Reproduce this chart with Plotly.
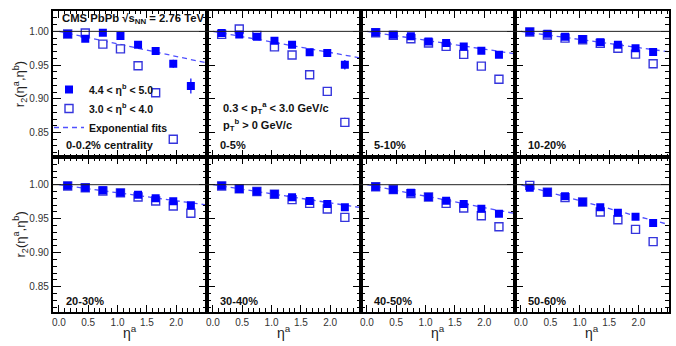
import numpy as np
import plotly.graph_objects as go

W, H = 676, 346

# ---------------- data ----------------
eta_a = [0.15, 0.45, 0.75, 1.05, 1.35, 1.65, 1.95, 2.25]
centrality_labels = ["0-0.2% centrality", "0-5%", "5-10%", "10-20%",
                     "20-30%", "30-40%", "40-50%", "50-60%"]
x_tick_vals = [0.0, 0.5, 1.0, 1.5, 2.0]
y_tick_vals = [0.85, 0.90, 0.95, 1.00]

# 4.4 < eta_b < 5.0 (filled)
far_c0 = [0.996, 0.989, 0.998, 0.993, 0.980, 0.971, 0.952, 0.919]
far_c1 = [0.9975, 0.9955, 0.992, 0.986, 0.980, 0.969, 0.968, 0.9505]
far_c2 = [0.9985, 0.995, 0.9926, 0.985, 0.9827, 0.9777, 0.9713, 0.9653]
far_c3 = [0.9995, 0.9965, 0.992, 0.9886, 0.984, 0.980, 0.975, 0.9693]
far_c4 = [0.9985, 0.9956, 0.9917, 0.988, 0.9853, 0.980, 0.9755, 0.9696]
far_c5 = [0.9985, 0.9936, 0.990, 0.9863, 0.9814, 0.976, 0.9716, 0.9667]
far_c6 = [0.997, 0.9926, 0.988, 0.982, 0.9765, 0.9716, 0.9647, 0.9574]
far_c7 = [0.9956, 0.989, 0.983, 0.9745, 0.967, 0.9588, 0.953, 0.9436]

far_err_c0 = [0.003, 0.003, 0.004, 0.004, 0.005, 0.005, 0.006, 0.011]
far_err_c1 = [0.002, 0.002, 0.003, 0.003, 0.003, 0.003, 0.004, 0.007]
far_err_small = [0.001, 0.001, 0.001, 0.001, 0.002, 0.002, 0.002, 0.002]

# 3.0 < eta_b < 4.0 (open)
near_c0 = [0.996, 0.9975, 0.981, 0.974, 0.949, 0.909, 0.840, None]
near_c1 = [0.9955, 1.0035, 0.994, 0.977, 0.965, 0.9356, 0.911, 0.865]
near_c2 = [0.998, 0.994, 0.989, 0.9827, 0.9777, 0.9658, 0.9485, 0.929]
near_c3 = [0.999, 0.9945, 0.990, 0.9876, 0.9822, 0.975, 0.9663, 0.952]
near_c4 = [0.998, 0.9955, 0.9907, 0.988, 0.9819, 0.976, 0.9686, 0.958]
near_c5 = [0.998, 0.994, 0.990, 0.986, 0.978, 0.9725, 0.9642, 0.952]
near_c6 = [0.997, 0.993, 0.9868, 0.982, 0.9725, 0.9657, 0.9544, 0.9382]
near_c7 = [0.999, 0.989, 0.981, 0.9745, 0.9598, 0.9485, 0.9343, 0.9162]

near_err_c0 = [0.002, 0.002, 0.002, 0.003, 0.003, 0.003, 0.003, 0.0]
near_err_c1 = [0.002, 0.002, 0.002, 0.002, 0.003, 0.003, 0.003, 0.007]
near_err_small = [0.001, 0.001, 0.001, 0.001, 0.002, 0.002, 0.002, 0.002]

# exponential fit parameter F2 for r2 = exp(-2 F2 eta_a), fitted to filled points
fit_F2 = [0.0095, 0.0080, 0.0067, 0.0061, 0.0060, 0.0068, 0.0086, 0.0120]

far_sets = [far_c0, far_c1, far_c2, far_c3, far_c4, far_c5, far_c6, far_c7]
near_sets = [near_c0, near_c1, near_c2, near_c3, near_c4, near_c5, near_c6, near_c7]
far_errs = [far_err_c0, far_err_c1] + [far_err_small] * 6
near_errs = [near_err_c0, near_err_c1] + [near_err_small] * 6

# ---------------- layout geometry (pixels) ----------------
col_px = [52.7, 206.7, 360.7, 514.8, 669.0]
row_px = [(11.0, 157.3), (157.3, 311.7)]
yranges = [[0.8132, 1.0302], [0.8132, 1.0403]]
xrange_ = [-0.105, 2.52]

def px_x(p):
    return p / W

def px_y(p):
    return 1 - p / H

FONT = "Liberation Sans, Arial, Helvetica, sans-serif"
C_FILL = "#0000ff"
C_OPEN = "#3535dd"
C_FIT = "#5050ff"

fig = go.Figure()
eta_fit = np.linspace(0.0, 2.5, 60)

for i in range(8):
    r, c = divmod(i, 4)
    n = i + 1
    xa = "x" if n == 1 else f"x{n}"
    ya = "y" if n == 1 else f"y{n}"
    first = (i == 0)
    fig.add_trace(go.Scatter(
        x=eta_fit, y=np.exp(-2 * fit_F2[i] * eta_fit), mode="lines",
        line=dict(color=C_FIT, width=1.3, dash="5px,4px"),
        xaxis=xa, yaxis=ya, name="<b>Exponential fits</b>",
        showlegend=first, legendrank=3, hoverinfo="skip"))
    fig.add_trace(go.Scatter(
        x=eta_a, y=near_sets[i], mode="markers",
        marker=dict(symbol="square", size=8, color="white", line=dict(width=1.4, color=C_OPEN)),
        error_y=dict(type="data", array=near_errs[i], width=0, thickness=1.2, color=C_OPEN),
        xaxis=xa, yaxis=ya, name="<b>3.0 < η<sup>b</sup> < 4.0</b>",
        showlegend=first, legendrank=2))
    fig.add_trace(go.Scatter(
        x=eta_a, y=far_sets[i], mode="markers",
        marker=dict(symbol="square", size=8, color=C_FILL),
        error_y=dict(type="data", array=far_errs[i], width=0, thickness=1.2, color=C_FILL),
        xaxis=xa, yaxis=ya, name="<b>4.4 < η<sup>b</sup> < 5.0</b>",
        showlegend=first, legendrank=1))

    xdom = [px_x(col_px[c]), px_x(col_px[c + 1])]
    ydom = [px_y(row_px[r][1]), px_y(row_px[r][0])]
    common = dict(showline=True, linecolor="black", linewidth=1.8, mirror="allticks",
                  ticks="inside", tickcolor="black", tickwidth=1, showgrid=False,
                  zeroline=False, tickfont=dict(size=10, color="#333", family=FONT))
    xkey = "xaxis" if n == 1 else f"xaxis{n}"
    ykey = "yaxis" if n == 1 else f"yaxis{n}"
    fig.layout[xkey] = dict(common, domain=xdom, range=xrange_, anchor=ya,
                            tickmode="array", tickvals=x_tick_vals, ticklen=7, tickformat=".1f",
                            showticklabels=(r == 1),
                            minor=dict(ticks="inside", ticklen=3.5, dtick=0.1, tick0=0,
                                       tickcolor="black", tickwidth=1))
    fig.layout[ykey] = dict(common, domain=ydom, range=yranges[r], anchor=xa,
                            tickmode="array", tickvals=y_tick_vals, ticklen=8, tickformat=".2f",
                            showticklabels=(c == 0),
                            minor=dict(ticks="inside", ticklen=4, dtick=0.01, tick0=0.8,
                                       tickcolor="black", tickwidth=1))
    # reference line at r2 = 1
    fig.add_shape(type="line", xref=f"{xa} domain", yref=ya, x0=0, x1=1, y0=1.0, y1=1.0,
                  line=dict(color="#222", width=1))

    # centrality label
    lbl_y = 145.3 if r == 0 else 300.5
    fig.add_annotation(text=f"<b>{centrality_labels[i]}</b>", xref="paper", yref="paper",
                       x=px_x(col_px[c] + 11), y=px_y(lbl_y), xanchor="left", yanchor="middle",
                       showarrow=False, font=dict(size=11, color="#111", family=FONT))

# axis titles
for r in range(2):
    yc = (row_px[r][0] + row_px[r][1]) / 2
    fig.add_annotation(text="r<sub>2</sub>(η<sup>a</sup>,η<sup>b</sup>)", xref="paper", yref="paper",
                       x=px_x(20), y=px_y(yc), textangle=-90, showarrow=False,
                       xanchor="center", yanchor="middle",
                       font=dict(size=13, color="#222", family=FONT))
for c in range(4):
    xc = (col_px[c] + col_px[c + 1]) / 2
    fig.add_annotation(text="η<sup>a</sup>", xref="paper", yref="paper",
                       x=px_x(xc), y=px_y(332), showarrow=False,
                       xanchor="center", yanchor="middle",
                       font=dict(size=14, color="#222", family=FONT))

# header and selection text
fig.add_annotation(text="<b>CMS PbPb √s<sub>NN</sub> = 2.76 TeV</b>", xref="paper", yref="paper",
                   x=px_x(60), y=px_y(19), xanchor="left", yanchor="middle", showarrow=False,
                   font=dict(size=11.3, color="#111", family=FONT))
fig.add_annotation(text="<b>0.3 < p<sub>T</sub><sup>a</sup> < 3.0 GeV/c</b>", xref="paper", yref="paper",
                   x=px_x(221), y=px_y(108), xanchor="left", yanchor="middle", showarrow=False,
                   font=dict(size=11, color="#111", family=FONT))
fig.add_annotation(text="<b>p<sub>T</sub><sup>b</sup> > 0 GeV/c</b>", xref="paper", yref="paper",
                   x=px_x(221), y=px_y(125), xanchor="left", yanchor="middle", showarrow=False,
                   font=dict(size=11, color="#111", family=FONT))

fig.update_layout(
    width=W, height=H, margin=dict(l=0, r=0, t=0, b=0),
    paper_bgcolor="white", plot_bgcolor="white",
    font=dict(family=FONT, color="#111"),
    legend=dict(x=px_x(49), y=px_y(75), xanchor="left", yanchor="top",
                bgcolor="rgba(0,0,0,0)", font=dict(size=10.5, color="#111", family=FONT),
                traceorder="normal", tracegroupgap=0),
    showlegend=True,
)

fig.write_html("out.html")
